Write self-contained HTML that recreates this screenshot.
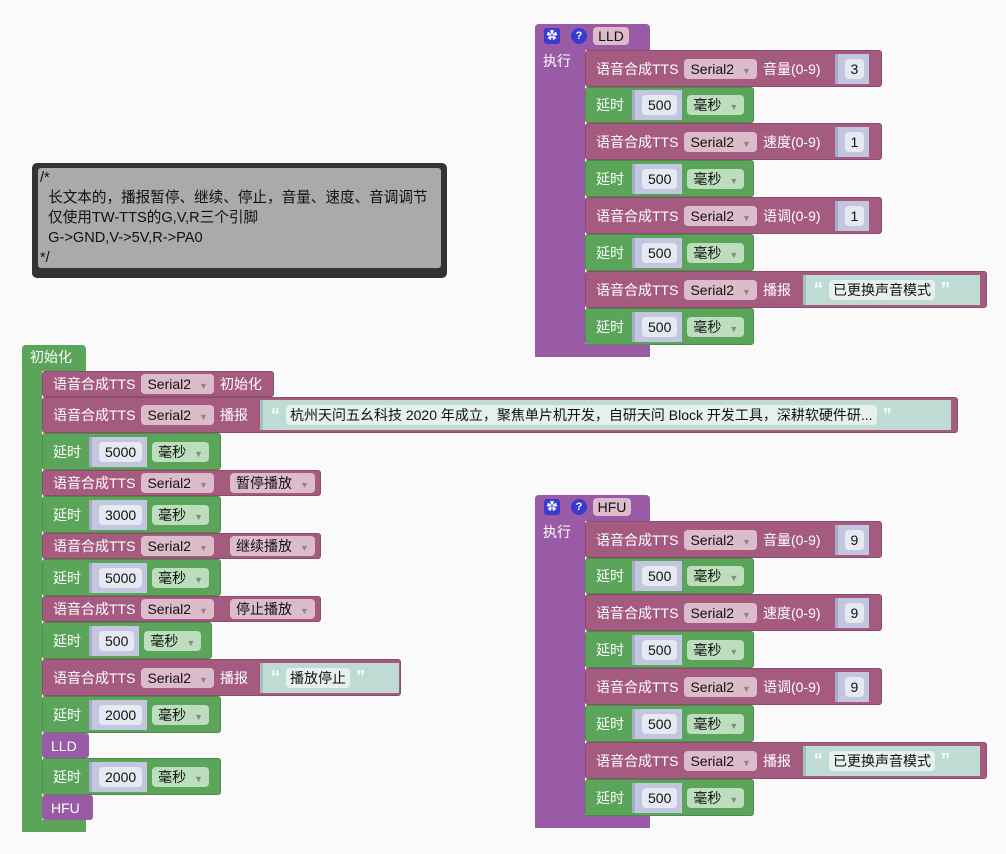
<!DOCTYPE html>
<html><head><meta charset="utf-8"><style>
body{margin:0;width:1006px;height:854px;background:#fafafa;position:relative;overflow:hidden;font-family:"Liberation Sans","Noto Sans CJK SC",sans-serif}
.b{position:absolute;display:flex;align-items:center;color:#fff;font-size:14px;box-sizing:border-box;padding-left:10px;white-space:nowrap;border-radius:3px}
.t{background:#a55b80;border:1px solid #8c4d6d}.g{background:#5ba55b;border:1px solid #4d8c4d}.p{background:#995ba5}
.dd{background:#dcbccb;color:#111;height:20px;line-height:20px;padding:0 6px;border-radius:4px;margin:0 6px}
.dd i,.gd i{font-style:normal;color:#888;font-size:9px;margin-left:8px}
.gd{background:#bddebd;color:#111;height:20px;line-height:20px;padding:0 6px;border-radius:4px;margin-left:5px}
.sk{background:#c2c6de;height:30px;display:flex;align-items:center;padding:0 5px 0 7px;margin-left:8px;border-left:3px solid #a8acc8}
.sk span{background:#e6e8f2;color:#111;border-radius:4px;padding:0 6px;height:20px;line-height:20px}
.tx{background:#bfdcd4;height:30px;display:flex;align-items:center;padding:0 8px;margin-left:8px;border-left:3px solid #a0c4ba}
.tx span{background:#e6f0ed;color:#111;border-radius:4px;padding:0 4px;height:20px;line-height:20px;margin:0 6px}
.q{color:#fff;font-weight:bold;font-size:18px}
</style></head><body>

<!-- comment -->
<div style="position:absolute;left:32px;top:163px;width:415px;height:115px;background:#333;border-radius:5px"></div>
<div style="position:absolute;left:38px;top:168px;width:403px;height:100px;background:#aaa;border-radius:3px;font-size:14.6px;line-height:20px;color:#111;padding-left:2px;box-sizing:border-box;white-space:nowrap">/*<br>&nbsp;&nbsp;长文本的，播报暂停、继续、停止，音量、速度、音调调节<br>&nbsp;&nbsp;仅使用TW-TTS的G,V,R三个引脚<br>&nbsp;&nbsp;G-&gt;GND,V-&gt;5V,R-&gt;PA0<br>*/</div>

<!-- LLD proc -->
<div class="p" style="position:absolute;left:535px;top:24px;width:115px;height:26px;border-radius:4px 4px 0 0"></div>
<div class="p" style="position:absolute;left:535px;top:24px;width:50px;height:333px;border-radius:4px 0 0 4px"></div>
<div class="p" style="position:absolute;left:535px;top:344px;width:115px;height:13px"></div>
<div style="position:absolute;left:544px;top:28px;width:16px;height:16px;background:#3a3ad0;border-radius:3px;color:#fff;font-size:11px;text-align:center;line-height:16px">✿</div>
<div style="position:absolute;left:571px;top:28px;width:16px;height:16px;background:#3a3ad0;border-radius:50%;color:#fff;font-size:11px;font-weight:bold;text-align:center;line-height:16px">?</div>
<div style="position:absolute;left:593px;top:27px;width:36px;height:18px;background:#dcbccb;border-radius:4px;font-size:14px;line-height:18px;text-align:center;color:#111">LLD</div>
<div style="position:absolute;left:543px;top:51px;color:#fff;font-size:14px">执行</div>

<div class="b t" style="left:585px;top:50px;width:297px;height:37px">语音合成TTS<span class="dd">Serial2<i>▼</i></span>音量(0-9)<span class="sk" style="margin-left:14px"><span>3</span></span></div>
<div class="b g" style="left:585px;top:87px;width:169px;height:36px">延时<span class="sk"><span>500</span></span><span class="gd">毫秒<i>▼</i></span></div>
<div class="b t" style="left:585px;top:123px;width:297px;height:37px">语音合成TTS<span class="dd">Serial2<i>▼</i></span>速度(0-9)<span class="sk" style="margin-left:14px"><span>1</span></span></div>
<div class="b g" style="left:585px;top:160px;width:169px;height:37px">延时<span class="sk"><span>500</span></span><span class="gd">毫秒<i>▼</i></span></div>
<div class="b t" style="left:585px;top:197px;width:297px;height:37px">语音合成TTS<span class="dd">Serial2<i>▼</i></span>语调(0-9)<span class="sk" style="margin-left:14px"><span>1</span></span></div>
<div class="b g" style="left:585px;top:234px;width:169px;height:37px">延时<span class="sk"><span>500</span></span><span class="gd">毫秒<i>▼</i></span></div>
<div class="b t" style="left:585px;top:271px;width:402px;height:37px">语音合成TTS<span class="dd">Serial2<i>▼</i></span>播报<span class="tx" style="margin-left:12px;width:158px"><b class="q">“</b><span>已更换声音模式</span><b class="q">”</b></span></div>
<div class="b g" style="left:585px;top:308px;width:169px;height:37px">延时<span class="sk"><span>500</span></span><span class="gd">毫秒<i>▼</i></span></div>

<!-- HFU proc -->
<div class="p" style="position:absolute;left:535px;top:495px;width:115px;height:26px;border-radius:4px 4px 0 0"></div>
<div class="p" style="position:absolute;left:535px;top:495px;width:50px;height:333px;border-radius:4px 0 0 4px"></div>
<div class="p" style="position:absolute;left:535px;top:815px;width:115px;height:13px"></div>
<div style="position:absolute;left:544px;top:499px;width:16px;height:16px;background:#3a3ad0;border-radius:3px;color:#fff;font-size:11px;text-align:center;line-height:16px">✿</div>
<div style="position:absolute;left:571px;top:499px;width:16px;height:16px;background:#3a3ad0;border-radius:50%;color:#fff;font-size:11px;font-weight:bold;text-align:center;line-height:16px">?</div>
<div style="position:absolute;left:593px;top:498px;width:38px;height:18px;background:#dcbccb;border-radius:4px;font-size:14px;line-height:18px;text-align:center;color:#111">HFU</div>
<div style="position:absolute;left:543px;top:522px;color:#fff;font-size:14px">执行</div>

<div class="b t" style="left:585px;top:521px;width:297px;height:37px">语音合成TTS<span class="dd">Serial2<i>▼</i></span>音量(0-9)<span class="sk" style="margin-left:14px"><span>9</span></span></div>
<div class="b g" style="left:585px;top:558px;width:169px;height:36px">延时<span class="sk"><span>500</span></span><span class="gd">毫秒<i>▼</i></span></div>
<div class="b t" style="left:585px;top:594px;width:297px;height:37px">语音合成TTS<span class="dd">Serial2<i>▼</i></span>速度(0-9)<span class="sk" style="margin-left:14px"><span>9</span></span></div>
<div class="b g" style="left:585px;top:631px;width:169px;height:37px">延时<span class="sk"><span>500</span></span><span class="gd">毫秒<i>▼</i></span></div>
<div class="b t" style="left:585px;top:668px;width:297px;height:37px">语音合成TTS<span class="dd">Serial2<i>▼</i></span>语调(0-9)<span class="sk" style="margin-left:14px"><span>9</span></span></div>
<div class="b g" style="left:585px;top:705px;width:169px;height:37px">延时<span class="sk"><span>500</span></span><span class="gd">毫秒<i>▼</i></span></div>
<div class="b t" style="left:585px;top:742px;width:402px;height:37px">语音合成TTS<span class="dd">Serial2<i>▼</i></span>播报<span class="tx" style="margin-left:12px;width:158px"><b class="q">“</b><span>已更换声音模式</span><b class="q">”</b></span></div>
<div class="b g" style="left:585px;top:779px;width:169px;height:37px">延时<span class="sk"><span>500</span></span><span class="gd">毫秒<i>▼</i></span></div>

<!-- 初始化 -->
<div style="position:absolute;left:22px;top:345px;width:20px;height:487px;background:#5ba55b;border-radius:4px 0 0 4px"></div>
<div style="position:absolute;left:22px;top:345px;width:64px;height:26px;background:#5ba55b;border-radius:4px 4px 0 0;color:#fff;font-size:14px;line-height:24px;padding-left:8px;box-sizing:border-box">初始化</div>
<div style="position:absolute;left:22px;top:820px;width:64px;height:12px;background:#5ba55b"></div>

<div class="b t" style="left:42px;top:371px;width:232px;height:26px">语音合成TTS<span class="dd">Serial2<i>▼</i></span>初始化</div>
<div class="b t" style="left:42px;top:397px;width:916px;height:36px">语音合成TTS<span class="dd">Serial2<i>▼</i></span>播报<span class="tx" style="margin-left:12px;width:672px"><b class="q">“</b><span>杭州天问五幺科技 2020 年成立，聚焦单片机开发，自研天问 Block 开发工具，深耕软硬件研...</span><b class="q">”</b></span></div>
<div class="b g" style="left:42px;top:433px;width:179px;height:37px">延时<span class="sk"><span>5000</span></span><span class="gd">毫秒<i>▼</i></span></div>
<div class="b t" style="left:42px;top:470px;width:279px;height:26px">语音合成TTS<span class="dd">Serial2<i>▼</i></span><span class="dd" style="margin-left:10px">暂停播放<i>▼</i></span></div>
<div class="b g" style="left:42px;top:496px;width:179px;height:37px">延时<span class="sk"><span>3000</span></span><span class="gd">毫秒<i>▼</i></span></div>
<div class="b t" style="left:42px;top:533px;width:279px;height:26px">语音合成TTS<span class="dd">Serial2<i>▼</i></span><span class="dd" style="margin-left:10px">继续播放<i>▼</i></span></div>
<div class="b g" style="left:42px;top:559px;width:179px;height:37px">延时<span class="sk"><span>5000</span></span><span class="gd">毫秒<i>▼</i></span></div>
<div class="b t" style="left:42px;top:596px;width:279px;height:26px">语音合成TTS<span class="dd">Serial2<i>▼</i></span><span class="dd" style="margin-left:10px">停止播放<i>▼</i></span></div>
<div class="b g" style="left:42px;top:622px;width:170px;height:37px">延时<span class="sk"><span>500</span></span><span class="gd">毫秒<i>▼</i></span></div>
<div class="b t" style="left:42px;top:659px;width:359px;height:37px">语音合成TTS<span class="dd">Serial2<i>▼</i></span>播报<span class="tx" style="margin-left:12px;width:120px"><b class="q">“</b><span>播放停止</span><b class="q">”</b></span></div>
<div class="b g" style="left:42px;top:696px;width:179px;height:37px">延时<span class="sk"><span>2000</span></span><span class="gd">毫秒<i>▼</i></span></div>
<div class="b p" style="left:42px;top:733px;width:47px;height:25px;padding-left:9px">LLD</div>
<div class="b g" style="left:42px;top:758px;width:179px;height:37px">延时<span class="sk"><span>2000</span></span><span class="gd">毫秒<i>▼</i></span></div>
<div class="b p" style="left:42px;top:795px;width:51px;height:25px;padding-left:9px">HFU</div>

</body></html>
